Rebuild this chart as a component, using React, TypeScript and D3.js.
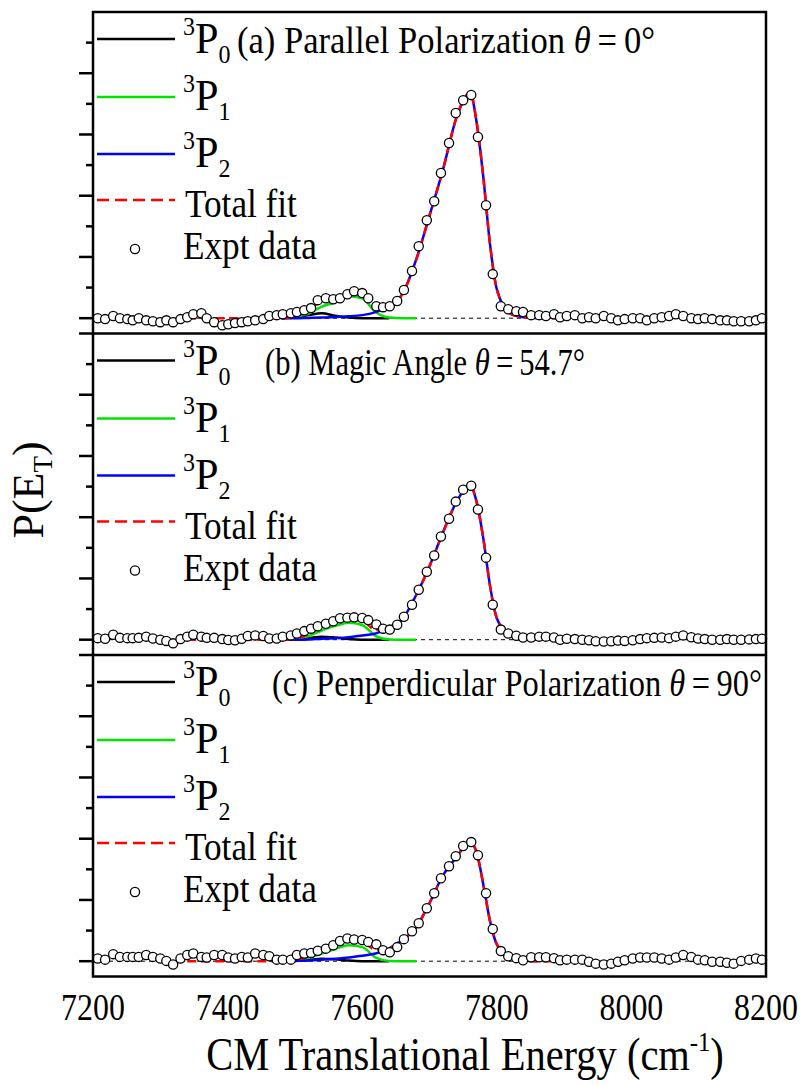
import React from "react";
import * as d3 from "d3";

// measured energies of the experimental points (cm-1), shared by all panels
const energies = [
  7207, 7218, 7230, 7240, 7251, 7259, 7268, 7279, 7289, 7300,
  7309, 7319, 7330, 7340, 7349, 7361, 7369, 7380, 7392, 7401,
  7411, 7421, 7430, 7441, 7453, 7462, 7473, 7482, 7494, 7503,
  7514, 7524, 7534, 7546, 7557, 7567, 7578, 7588, 7600, 7609,
  7621, 7631, 7641, 7652, 7662, 7674, 7684, 7696, 7707, 7717,
  7729, 7739, 7750, 7762, 7772, 7784, 7794, 7806, 7817, 7829,
  7839, 7851, 7863, 7873, 7885, 7894, 7904, 7916, 7927, 7937,
  7947, 7959, 7970, 7980, 7990, 8002, 8013, 8023, 8034, 8045,
  8056, 8066, 8077, 8089, 8099, 8109, 8120, 8132, 8142, 8152,
  8163, 8175, 8185, 8194,
];

const exptParallel = [
  0.0, -0.03, 0.07, 0.0, -0.03, -0.07, 0.0, -0.07, -0.1, -0.13,
  -0.07, -0.13, -0.03, 0.03, 0.13, 0.16, 0.0, -0.13, -0.23, -0.2,
  -0.16, -0.13, -0.1, -0.07, -0.03, 0.07, 0.1, 0.13, 0.16, 0.2,
  0.26, 0.33, 0.59, 0.65, 0.62, 0.65, 0.78, 0.88, 0.82, 0.65,
  0.39, 0.36, 0.39, 0.56, 0.92, 1.54, 2.35, 3.2, 3.82, 4.74,
  5.72, 6.7, 7.12, 7.29, 5.92, 3.69, 1.44, 0.39, 0.29, 0.23,
  0.2, 0.1, 0.1, 0.07, 0.13, 0.03, 0.07, 0.1, 0.0, 0.03,
  0.0, 0.07, 0.0, -0.07, -0.03, 0.0, 0.0, -0.07, 0.0, 0.03,
  0.07, 0.13, 0.07, 0.0, -0.03, 0.0, -0.03, -0.07, -0.07, -0.1,
  -0.1, -0.1, -0.07, 0.0,
];

const exptMagic = [
  0.05, 0.03, 0.16, 0.06, 0.05, 0.05, 0.06, 0.1, 0.04, 0.0,
  -0.04, -0.12, 0.02, 0.1, 0.16, 0.1, 0.06, 0.06, 0.02, -0.01,
  -0.02, 0.03, 0.12, 0.14, 0.12, 0.04, 0.04, 0.1, 0.14, 0.2,
  0.28, 0.36, 0.44, 0.52, 0.6, 0.7, 0.72, 0.73, 0.71, 0.64,
  0.5, 0.36, 0.33, 0.49, 0.75, 1.14, 1.63, 2.22, 2.75, 3.37,
  3.95, 4.51, 4.9, 5.03, 4.25, 2.68, 1.14, 0.33, 0.2, 0.13,
  0.07, 0.07, 0.1, 0.1, 0.07, 0.0, 0.03, 0.02, 0.0, -0.02,
  -0.05, -0.06, -0.05, -0.03, -0.04, -0.02, 0.02, 0.05, 0.06, 0.07,
  0.05, 0.1, 0.14, 0.08, 0.04, 0.02, 0.0, 0.0, 0.02, 0.0,
  0.0, 0.01, 0.02, 0.03,
];

const exptPerp = [
  0.09, 0.05, 0.23, 0.14, 0.14, 0.14, 0.14, 0.2, 0.14, 0.09,
  0.01, -0.11, 0.09, 0.2, 0.25, 0.14, 0.12, 0.2, 0.2, 0.12,
  0.09, 0.14, 0.12, 0.25, 0.2, 0.16, 0.05, 0.05, 0.05, 0.2,
  0.25, 0.27, 0.34, 0.41, 0.52, 0.66, 0.74, 0.71, 0.69, 0.63,
  0.55, 0.36, 0.29, 0.46, 0.72, 0.98, 1.24, 1.73, 2.22, 2.71,
  3.1, 3.43, 3.76, 3.89, 3.46, 2.22, 1.05, 0.33, 0.16, 0.1,
  0.03, 0.13, 0.13, 0.13, 0.1, 0.03, 0.05, 0.05, 0.05, -0.02,
  -0.08, -0.11, -0.08, -0.02, 0.03, 0.09, 0.12, 0.12, 0.12, 0.09,
  0.05, 0.12, 0.2, 0.14, 0.05, 0.03, -0.02, -0.02, -0.05, -0.08,
  0.01, 0.05, 0.09, 0.05,
];

// fit grid (cm-1) for the spin-orbit components
const fitEnergies = [
  7340, 7380, 7420, 7460, 7480, 7500, 7520, 7540, 7560, 7580,
  7600, 7620, 7640, 7660, 7680, 7700, 7720, 7740, 7750, 7760,
  7770, 7780, 7790, 7800, 7820, 7840, 7860, 7880, 7900,
];
const n = null;

const p0Parallel = [n, n, n, n, 0, 0.02, 0.1, 0.16, 0.08, 0.02, 0, 0, 0, n, n, n, n, n, n, n, n, n, n, n, n, n, n, n, n];
const p1Parallel = [n, n, n, n, n, 0.04, 0.15, 0.38, 0.52, 0.72, 0.65, 0.2, 0.02, 0, 0, n, n, n, n, n, n, n, n, n, n, n, n, n, n];
const p2Parallel = [n, n, n, n, 0, 0, 0.01, 0.02, 0.04, 0.06, 0.1, 0.2, 0.38, 0.8, 1.9, 3.35, 4.85, 6.55, 7.1, 7.38, 6.4, 4.6, 2.4, 0.95, 0.15, 0.03, 0, n, n];

const p0Magic = [n, n, n, n, 0, 0.01, 0.05, 0.1, 0.07, 0.02, 0, 0, 0, n, n, n, n, n, n, n, n, n, n, n, n, n, n, n, n];
const p1Magic = [n, n, n, n, n, 0.02, 0.12, 0.3, 0.45, 0.55, 0.48, 0.12, 0.01, 0, 0, n, n, n, n, n, n, n, n, n, n, n, n, n, n];
const p2Magic = [n, n, n, n, 0, 0, 0.01, 0.03, 0.05, 0.08, 0.14, 0.2, 0.4, 0.68, 1.45, 2.4, 3.5, 4.5, 4.85, 5.05, 4.5, 3.3, 1.75, 0.7, 0.13, 0.03, 0, n, n];

const p0Perp = [n, n, n, n, 0, 0.01, 0.04, 0.08, 0.06, 0.02, 0, 0, 0, n, n, n, n, n, n, n, n, n, n, n, n, n, n, n, n];
const p1Perp = [n, n, n, n, n, 0.02, 0.1, 0.25, 0.4, 0.52, 0.46, 0.12, 0.01, 0, 0, n, n, n, n, n, n, n, n, n, n, n, n, n, n];
const p2Perp = [n, n, n, n, 0, 0.01, 0.02, 0.05, 0.08, 0.12, 0.18, 0.25, 0.42, 0.7, 1.1, 1.9, 2.8, 3.4, 3.7, 3.9, 3.55, 2.5, 1.3, 0.55, 0.12, 0.02, 0, n, n];

const panelLabels = ["(a) Parallel Polarization ", "(b) Magic Angle ", "(c) Penperdicular Polarization "];
const panelAngles = ["0°", "54.7°", "90°"];
const xTicks = [7200, 7400, 7600, 7800, 8000, 8200];

const panels = [
  { expt: exptParallel, p0: p0Parallel, p1: p1Parallel, p2: p2Parallel },
  { expt: exptMagic, p0: p0Magic, p1: p1Magic, p2: p2Magic },
  { expt: exptPerp, p0: p0Perp, p1: p1Perp, p2: p2Perp },
];

const FONT = "Liberation Serif, Times New Roman, serif";
const W = 805;
const H = 1086;
const X0 = 93;
const X1 = 766;
const TOP = 12;
const PH = 321.5;
const SQ = 0.88; // the original figure is squeezed horizontally
const GREEN = "#00e400";
const BLUE = "#0000ff";
const RED = "#ff0000";

const x = d3.scaleLinear().domain([7200, 8200]).range([X0, X1]);

const titleX = [237, 265, 272];
const titleW = [418, 320, 490];

function Level({ x0, y0, sub }: { x0: number; y0: number; sub: string }) {
  return (
    <g transform={`translate(${x0},${y0}) scale(0.96,1)`}>
      <text fontFamily={FONT} fontSize={44} fill="#000">
        <tspan fontSize={25} dy={-18}>3</tspan>
        <tspan dy={18}>P</tspan>
        <tspan fontSize={25} dy={10}>{sub}</tspan>
      </text>
    </g>
  );
}

function Panel({ idx }: { idx: number }) {
  const d = panels[idx];
  const top = TOP + idx * PH;
  const y = d3.scaleLinear().domain([-0.5, 10]).range([top + PH, top]);
  const off = top - TOP;

  const pts = (vals: (number | null)[]) =>
    fitEnergies.map((e, i) => [e, vals[i]] as [number, number | null]);
  const total = fitEnergies.map(
    (e, i) => [e, (d.p0[i] ?? 0) + (d.p1[i] ?? 0) + (d.p2[i] ?? 0)] as [number, number | null]
  );
  const line = d3
    .line<[number, number | null]>()
    .defined((p) => p[1] != null)
    .x((p) => x(p[0]))
    .y((p) => y(p[1] as number))
    .curve(d3.curveMonotoneX);

  const ticks = d3.range(0, idx === 0 ? 10 : 11);
  const rows = [39, 97, 154, 200, 249].map((v) => v + off);
  const bases = [53, 110, 167, 217, 259].map((v) => v + off);

  return (
    <g>
      {ticks.map((t) => (
        <line
          key={t}
          x1={X0 - (t % 2 === 0 ? 14 : 7)}
          x2={X0}
          y1={y(t)}
          y2={y(t)}
          stroke="#000"
          strokeWidth={2.5}
        />
      ))}
      <line x1={X0} x2={X1} y1={y(0)} y2={y(0)} stroke="#000" strokeWidth={1} strokeDasharray="4,4" />
      <path d={line(pts(d.p0)) || ""} fill="none" stroke="#000" strokeWidth={2.5} />
      <path d={line(pts(d.p1)) || ""} fill="none" stroke={GREEN} strokeWidth={2.5} />
      <path d={line(pts(d.p2)) || ""} fill="none" stroke={BLUE} strokeWidth={2.5} />
      <path d={line(total) || ""} fill="none" stroke={RED} strokeWidth={2.5} strokeDasharray="9,5" />
      {energies.map((e, i) => (
        <circle key={i} cx={x(e)} cy={y(d.expt[i])} r={4.6} fill="#fff" stroke="#000" strokeWidth={1.3} />
      ))}

      {/* legend */}
      <line x1={97} x2={175} y1={rows[0]} y2={rows[0]} stroke="#000" strokeWidth={2.5} />
      <line x1={97} x2={175} y1={rows[1]} y2={rows[1]} stroke={GREEN} strokeWidth={2.5} />
      <line x1={97} x2={175} y1={rows[2]} y2={rows[2]} stroke={BLUE} strokeWidth={2.5} />
      <line x1={97} x2={175} y1={rows[3]} y2={rows[3]} stroke={RED} strokeWidth={2.5} strokeDasharray="12,6" />
      <circle cx={135} cy={rows[4]} r={4.6} fill="#fff" stroke="#000" strokeWidth={1.3} />
      <Level x0={183} y0={bases[0]} sub="0" />
      <Level x0={183} y0={bases[1]} sub="1" />
      <Level x0={183} y0={bases[2]} sub="2" />
      <g transform={`translate(185,${bases[3]}) scale(${SQ},1)`}>
        <text fontFamily={FONT} fontSize={40}>Total fit</text>
      </g>
      <g transform={`translate(183,${bases[4]}) scale(${SQ},1)`}>
        <text fontFamily={FONT} fontSize={40}>Expt data</text>
      </g>
      <text
        x={titleX[idx]}
        y={bases[0]}
        fontFamily={FONT}
        fontSize={38}
        textLength={titleW[idx]}
        lengthAdjust="spacingAndGlyphs"
      >
        {panelLabels[idx]}
        <tspan fontStyle="italic">θ</tspan>
        {"\u2009=\u2009" + panelAngles[idx]}
      </text>
    </g>
  );
}

export default function App() {
  return (
    <svg
      width={W}
      height={H}
      style={{ position: "absolute", left: 0, top: 0, background: "#fff" }}
    >
      {[0, 1, 2].map((i) => (
        <Panel key={i} idx={i} />
      ))}
      {/* frame and panel dividers */}
      <rect x={X0} y={TOP} width={X1 - X0} height={PH * 3} fill="none" stroke="#000" strokeWidth={2.5} />
      <line x1={X0} x2={X1} y1={TOP + PH} y2={TOP + PH} stroke="#000" strokeWidth={2.5} />
      <line x1={X0} x2={X1} y1={TOP + 2 * PH} y2={TOP + 2 * PH} stroke="#000" strokeWidth={2.5} />

      {xTicks.map((t) => (
        <g key={t} transform={`translate(${x(t)},1020) scale(0.84,1)`}>
          <text fontFamily={FONT} fontSize={38} textAnchor="middle">
            {t}
          </text>
        </g>
      ))}
      <g transform={`translate(465,1070) scale(${SQ},1)`}>
        <text fontFamily={FONT} fontSize={46} textAnchor="middle">
          CM Translational Energy (cm
          <tspan fontSize={28} dy={-19}>-1</tspan>
          <tspan dy={19}>)</tspan>
        </text>
      </g>
      <g transform="translate(43,490) rotate(-90)">
        <text fontFamily={FONT} fontSize={44} textAnchor="middle">
          P(E
          <tspan fontSize={27} dy={9}>T</tspan>
          <tspan dy={-9}>)</tspan>
        </text>
      </g>
    </svg>
  );
}
